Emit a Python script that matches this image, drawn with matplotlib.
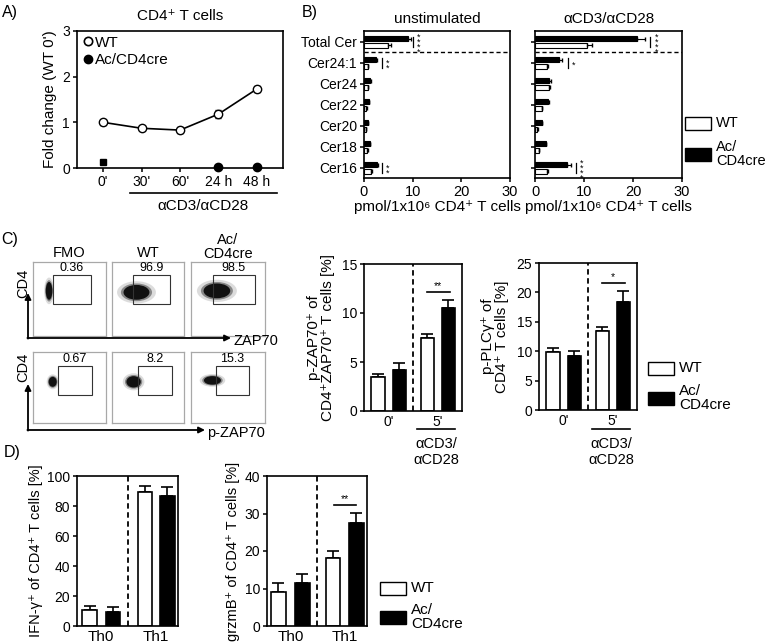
import matplotlib
matplotlib.use('Agg')
import matplotlib.pyplot as plt
from matplotlib.patches import Rectangle, Ellipse
from matplotlib.lines import Line2D

plt.rcParams['font.family'] = ['Liberation Sans', 'DejaVu Sans']
plt.rcParams['font.size'] = 9
plt.rcParams['axes.linewidth'] = 1.2

# ---------------- data ----------------
A_times = ["0'", "30'", "60'", "24 h", "48 h"]
A_wt = [1.0, 0.87, 0.83, 1.18, 1.73]
A_wt_err = [0.06, 0.03, 0.07, 0.09, 0.07]
A_ko_idx = [3, 4]
A_ko = [0.02, 0.03]
A_ko0 = [0.13]

B_species = ['Total Cer', 'Cer24:1', 'Cer24', 'Cer22', 'Cer20', 'Cer18', 'Cer16']
B_unstim_ko = [9.06, 2.4, 1.3, 1.0, 0.8, 1.15, 2.7]
B_unstim_ko_err = [0.7, 0.3, 0.1, 0.1, 0.1, 0.1, 0.2]
B_unstim_wt = [4.94, 0.8, 0.8, 0.5, 0.35, 0.7, 1.4]
B_unstim_wt_err = [0.65, 0.1, 0.1, 0.1, 0.05, 0.1, 0.2]
B_stim_ko = [20.8, 4.9, 2.9, 2.6, 1.35, 2.2, 6.6]
B_stim_ko_err = [1.7, 0.6, 0.3, 0.2, 0.1, 0.1, 0.7]
B_stim_wt = [10.7, 2.5, 2.8, 1.35, 0.5, 0.8, 2.4]
B_stim_wt_err = [0.9, 0.2, 0.3, 0.1, 0.1, 0.1, 0.2]
B_unstim_sig = {0: '****', 1: '**', 6: '**'}
B_stim_sig = {0: '****', 1: '*', 6: '****'}

C_flow_cols = ['FMO', 'WT', 'Ac/\nCD4cre']
C_flow_pct_zap = ['0.36', '96.9', '98.5']
C_flow_pct_pzap = ['0.67', '8.2', '15.3']

C_groups = ["0'", "5'"]
C_pzap_wt = [3.5, 7.4]
C_pzap_wt_err = [0.3, 0.5]
C_pzap_ko = [4.2, 10.5]
C_pzap_ko_err = [0.7, 0.8]
C_pplc_wt = [9.8, 13.5]
C_pplc_wt_err = [0.8, 0.7]
C_pplc_ko = [9.1, 18.4]
C_pplc_ko_err = [1.0, 1.9]

D_groups = ['Th0', 'Th1']
D_ifn_wt = [10.5, 89.5]
D_ifn_wt_err = [3.0, 4.0]
D_ifn_ko = [9.5, 86.5]
D_ifn_ko_err = [3.5, 6.0]
D_grz_wt = [9.0, 18.2]
D_grz_wt_err = [2.5, 1.8]
D_grz_ko = [11.5, 27.5]
D_grz_ko_err = [2.3, 2.6]

# ---------------- layout helpers ----------------
W, H = 769, 643
fig = plt.figure(figsize=(W / 100, H / 100), dpi=100)


def px_axes(l, t, r, b):
    return fig.add_axes([l / W, 1 - b / H, (r - l) / W, (b - t) / H])


def ftext(x, y, s, **kw):
    kw.setdefault('ha', 'center')
    kw.setdefault('va', 'center')
    fig.text(x / W, 1 - y / H, s, **kw)


def style(ax):
    for s in ax.spines.values():
        s.set_linewidth(1.2)
    ax.tick_params(direction='out', length=3, width=1.1, labelsize=10, pad=2)


ov = fig.add_axes([0, 0, 1, 1], zorder=10)
ov.set_xlim(0, W)
ov.set_ylim(H, 0)
ov.axis('off')

# panel letters
for lab, x, y in [('A)', 10, 12), ('B)', 310, 12), ('C)', 10, 240), ('D)', 12, 453)]:
    ftext(x, y, lab, fontsize=11.5)

# ---------------- Panel A ----------------
axA = px_axes(77, 31, 283, 168)
style(axA)
xs = list(range(len(A_times)))
axA.errorbar(xs, A_wt, yerr=A_wt_err, color='k', marker='o', mfc='white', mec='k',
             ms=6, lw=1.2, capsize=2.5, elinewidth=1, zorder=3)
axA.plot(A_ko_idx, A_ko, 'o', color='k', ms=6, clip_on=False, zorder=3)
axA.plot([0], A_ko0, 's', color='k', ms=5, zorder=3)
axA.set_xlim(-0.68, 4.68)
axA.set_ylim(0, 3)
axA.set_yticks([0, 1, 2, 3])
axA.set_xticks(xs)
axA.set_xticklabels(A_times)
axA.set_ylabel("Fold change (WT 0')", fontsize=11, labelpad=4)
hA = [Line2D([], [], ls='none', marker='o', mfc='white', mec='k', ms=6, mew=1.2),
      Line2D([], [], ls='none', marker='o', color='k', ms=6)]
axA.legend(hA, ['WT', 'Ac/CD4cre'], loc='upper left', frameon=False, fontsize=11,
           handletextpad=0.1, borderaxespad=0.2, handlelength=0.8, labelspacing=0.25,
           borderpad=0.1)
ftext(180, 16, 'CD4⁺ T cells', fontsize=11)
ov.plot([130, 277], [193, 193], color='k', lw=1.2)
ftext(203, 206, 'αCD3/αCD28', fontsize=11)

# ---------------- Panel B ----------------


def ceramide(ax, ko, ko_err, wt, wt_err, sig, sig_pos, title):
    style(ax)
    ys = list(range(len(B_species)))
    yk = [y - 0.16 for y in ys]
    yw = [y + 0.16 for y in ys]
    ax.barh(yk, ko, height=0.26, color='k', edgecolor='k', lw=0.8)
    ax.barh(yw, wt, height=0.26, color='white', edgecolor='k', lw=0.8)
    ax.errorbar(ko, yk, xerr=[[0] * len(ko), ko_err], fmt='none', ecolor='k',
                elinewidth=0.8, capsize=1.5)
    ax.errorbar(wt, yw, xerr=[[0] * len(wt), wt_err], fmt='none', ecolor='k',
                elinewidth=0.8, capsize=1.5)
    for i, s in sig.items():
        lx, sx = sig_pos[i]
        ax.plot([lx, lx], [i - 0.22, i + 0.22], color='k', lw=0.9)
        ax.text(sx, i + 0.12, '\n'.join(s), ha='center', va='center', fontsize=6.5,
                linespacing=0.42)
    ax.axhline(0.5, color='k', ls=(0, (3, 2)), lw=1.0)
    ax.set_xlim(0, 30)
    ax.set_xticks([0, 10, 20, 30])
    ax.set_ylim(6.48, -0.52)
    ax.set_yticks(ys)
    ax.tick_params(axis='x', labelsize=10.5)
    ax.set_xlabel('pmol/1x10⁶ CD4⁺ T cells', fontsize=11, labelpad=1)
    ax.set_title(title, fontsize=11, pad=6)


axB1 = px_axes(364, 31, 510, 178)
ceramide(axB1, B_unstim_ko, B_unstim_ko_err, B_unstim_wt, B_unstim_wt_err,
         B_unstim_sig, {0: (10.1, 11.2), 1: (3.6, 4.9), 6: (3.6, 4.9)}, 'unstimulated')
axB1.set_yticklabels(B_species, fontsize=10)
axB2 = px_axes(535, 31, 682, 178)
ceramide(axB2, B_stim_ko, B_stim_ko_err, B_stim_wt, B_stim_wt_err,
         B_stim_sig, {0: (23.5, 24.9), 1: (6.7, 7.9), 6: (8.3, 9.6)}, 'αCD3/αCD28')
axB2.set_yticklabels([])


def legend_boxes(x, y1, y2, fs=11):
    ov.add_patch(Rectangle((x, y1 - 6.5), 26, 13, facecolor='white', edgecolor='k', lw=1.0))
    ov.add_patch(Rectangle((x, y2 - 6.5), 26, 13, facecolor='k', edgecolor='k', lw=1.0))
    ftext(x + 31, y1, 'WT', ha='left', fontsize=fs)
    ftext(x + 31, y2, 'Ac/\nCD4cre', ha='left', fontsize=fs, linespacing=1.0)


legend_boxes(685, 123, 154, fs=10.5)

# ---------------- Panel C flow plots ----------------
box_x = [(33, 106), (112, 184), (191, 265)]
row_y = [(262, 336), (352, 423)]
gates = [
    [(0.27, 0.79, 0.18, 0.57), (0.29, 0.81, 0.18, 0.57), (0.30, 0.86, 0.18, 0.57)],
    [(0.34, 0.81, 0.20, 0.60), (0.36, 0.83, 0.20, 0.60), (0.34, 0.78, 0.20, 0.60)],
]
blobs = [
    [(0.22, 0.39, 0.09, 0.24), (0.34, 0.41, 0.36, 0.20), (0.35, 0.39, 0.36, 0.20)],
    [(0.27, 0.42, 0.11, 0.14), (0.30, 0.42, 0.20, 0.16), (0.29, 0.40, 0.23, 0.12)],
]
pcts = [C_flow_pct_zap, C_flow_pct_pzap]
for r in range(2):
    for c in range(3):
        l, rr = box_x[c]
        t, b = row_y[r]
        ax = px_axes(l, t, rr, b)
        ax.set_xlim(0, 1)
        ax.set_ylim(1, 0)
        ax.set_xticks([])
        ax.set_yticks([])
        for s in ax.spines.values():
            s.set_color('#a8a8a8')
            s.set_linewidth(0.9)
        cx, cy, ew, eh = blobs[r][c]
        ax.add_patch(Ellipse((cx, cy), ew * 1.5, eh * 1.5, color='#777777', alpha=0.25, lw=0))
        ax.add_patch(Ellipse((cx, cy), ew * 1.2, eh * 1.2, color='#333333', alpha=0.5, lw=0))
        ax.add_patch(Ellipse((cx, cy), ew, eh, color='#111111', lw=0))
        x0, x1, y0, y1 = gates[r][c]
        ax.add_patch(Rectangle((x0, y0), x1 - x0, y1 - y0, fill=False, edgecolor='#333333', lw=0.8))
        ax.text((x0 + x1) / 2, y0 - 0.02, pcts[r][c], ha='center', va='bottom', fontsize=9)

ftext(69, 253, C_flow_cols[0], fontsize=10.5)
ftext(148, 253, C_flow_cols[1], fontsize=10.5)
ftext(228, 247, C_flow_cols[2], fontsize=10.5, linespacing=1.0)

for (yv, yb, lab, lx) in [(293, 338, 'ZAP70', 233), (384, 430, 'p-ZAP70', 207)]:
    ov.annotate('', xy=(28, yv), xytext=(28, yb + 0.6),
                arrowprops=dict(arrowstyle='-|>', color='k', lw=1.3, mutation_scale=9, shrinkA=0, shrinkB=0))
    ov.annotate('', xy=(lx - 2, yb), xytext=(27.4, yb),
                arrowprops=dict(arrowstyle='-|>', color='k', lw=1.3, mutation_scale=9, shrinkA=0, shrinkB=0))
    ftext(lx, yb + 3, lab, ha='left', fontsize=10.5)
ftext(23, 283, 'CD4', rotation=90, fontsize=10.5)
ftext(23, 367, 'CD4', rotation=90, fontsize=10.5)

# ---------------- bar helper ----------------


def group_bars(ax, pos, wt, wt_err, ko, ko_err, width, xlim, dash, ylim, yticks,
               ticklabels, tickpos):
    style(ax)
    pw = [pos[0], pos[2]]
    pk = [pos[1], pos[3]]
    ax.bar(pw, wt, width=width, color='white', edgecolor='k', lw=1.2, zorder=2)
    ax.bar(pk, ko, width=width, color='k', edgecolor='k', lw=1.2, zorder=2)
    ax.errorbar(pw, wt, yerr=[[0, 0], wt_err], fmt='none', ecolor='k', elinewidth=1.2,
                capsize=4, capthick=1.2, zorder=1)
    ax.errorbar(pk, ko, yerr=[[0, 0], ko_err], fmt='none', ecolor='k', elinewidth=1.2,
                capsize=4, capthick=1.2, zorder=1)
    ax.axvline(dash, color='k', ls=(0, (3, 2)), lw=1.3)
    ax.set_xlim(*xlim)
    ax.set_ylim(*ylim)
    ax.set_yticks(yticks)
    ax.set_xticks(tickpos)
    ax.set_xticklabels(ticklabels)
    ax.tick_params(axis='x', length=0, pad=3)


def sig(ax, x0, x1, y, s, dy):
    ax.plot([x0, x1], [y, y], color='k', lw=1.2)
    ax.text((x0 + x1) / 2, y + dy, s, ha='center', va='bottom', fontsize=7.5)


# ---------------- Panel C bars ----------------
posC = [0, 1, 2.33, 3.33]
axC1 = px_axes(364, 264, 462, 411)
group_bars(axC1, posC, C_pzap_wt, C_pzap_wt_err, C_pzap_ko, C_pzap_ko_err, 0.63,
           (-0.67, 3.97), 1.67, (0, 15), [0, 5, 10, 15], C_groups, [0.5, 2.83])
sig(axC1, 2.3, 3.4, 12.1, '**', 0.1)
axC1.set_ylabel('p-ZAP70⁺ of\nCD4⁺ZAP70⁺ T cells [%]', fontsize=11, labelpad=5, linespacing=1.0)

axC2 = px_axes(539, 263, 637, 410)
group_bars(axC2, posC, C_pplc_wt, C_pplc_wt_err, C_pplc_ko, C_pplc_ko_err, 0.63,
           (-0.67, 3.97), 1.67, (0, 25), [0, 5, 10, 15, 20, 25], C_groups, [0.5, 2.83])
sig(axC2, 2.3, 3.4, 21.6, '*', 0.2)
axC2.set_ylabel('p-PLCγ⁺ of\nCD4⁺ T cells [%]', fontsize=11, labelpad=5, linespacing=1.0)

for x0, x1 in [(417, 455), (592, 630)]:
    ov.plot([x0, x1], [429, 429], color='k', lw=1.2)
    ftext((x0 + x1) / 2, 452, 'αCD3/\nαCD28', fontsize=10.5, linespacing=1.1)
legend_boxes(648, 368, 398)

# ---------------- Panel D ----------------
axD1 = px_axes(77, 476, 178, 626)
group_bars(axD1, [0, 1, 2.37, 3.33], D_ifn_wt, D_ifn_wt_err, D_ifn_ko, D_ifn_ko_err, 0.62,
           (-0.54, 3.79), 1.64, (0, 100), [0, 20, 40, 60, 80, 100], D_groups, [0.5, 2.85])
axD1.set_ylabel('IFN-γ⁺ of CD4⁺ T cells [%]', fontsize=10.5, labelpad=3)
axD1.tick_params(axis='x', labelsize=11)

axD2 = px_axes(267, 476, 367, 626)
group_bars(axD2, [0, 1, 2.28, 3.25], D_grz_wt, D_grz_wt_err, D_grz_ko, D_grz_ko_err, 0.6,
           (-0.47, 3.69), 1.62, (0, 40), [0, 10, 20, 30, 40], D_groups, [0.5, 2.77])
sig(axD2, 2.3, 3.25, 32.3, '**', 0.3)
axD2.set_ylabel('grzmB⁺ of CD4⁺ T cells [%]', fontsize=10.5, labelpad=3)
axD2.tick_params(axis='x', labelsize=11)
legend_boxes(380, 588, 617)

fig.savefig('out.png', dpi=100)
